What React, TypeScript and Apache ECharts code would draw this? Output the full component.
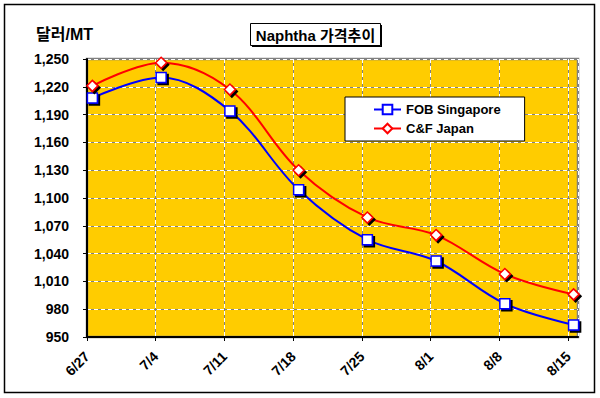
import React, { useEffect, useRef } from "react";
import * as echarts from "echarts";

const tickLabels = ["6/27", "7/4", "7/11", "7/18", "7/25", "8/1", "8/8", "8/15"];
const obsDays = [0.55, 7.55, 14.55, 21.55, 28.55, 35.55, 42.55, 49.55];
const fobSingapore = [1208, 1230, 1194, 1109, 1055, 1032, 986, 963];
const cfJapan = [1221, 1246, 1217, 1130, 1079, 1060, 1018, 996];
const seriesNames = ["FOB Singapore", "C&F Japan"];

const FONT = "Arial, 'Liberation Sans', 'Noto Sans CJK KR', sans-serif";

export default function App() {
  const ref = useRef<HTMLDivElement>(null);
  useEffect(() => {
    if (!ref.current) return;
    const chart = echarts.init(ref.current, null, { renderer: "svg" });
    const fmtY = (v: number) => v.toLocaleString("en-US");
    const fmtX = (v: number) => {
      const i = Math.round(v / 7);
      return Math.abs(v - i * 7) < 0.01 && tickLabels[i] ? tickLabels[i] : "";
    };
    const shadow = { shadowColor: "#000", shadowOffsetX: 2, shadowOffsetY: 2, shadowBlur: 0 };
    chart.setOption({
      animation: false,
      backgroundColor: "#fff",
      textStyle: { fontFamily: FONT },
      grid: {
        left: 87,
        top: 59,
        right: 22,
        bottom: 61,
        show: true,
        backgroundColor: "#FFCC00",
        borderColor: "#808080",
        borderWidth: 2.5,
      },
      legend: {
        orient: "vertical",
        left: 345,
        top: 97,
        data: seriesNames,
        backgroundColor: "#fff",
        borderColor: "#000",
        borderWidth: 1,
        borderRadius: 0,
        padding: [6, 24, 6, 28],
        itemWidth: 27,
        itemHeight: 12,
        itemGap: 6,
        textStyle: { fontSize: 13, fontWeight: "bold", color: "#000", fontFamily: FONT },
      },
      xAxis: [
        {
          type: "value",
          min: 0,
          max: 50,
          interval: 7,
          z: 1,
          axisLine: { show: true, onZero: false, lineStyle: { color: "#000", width: 2 } },
          axisTick: { show: true, length: 4, lineStyle: { color: "#000", width: 1 } },
          axisLabel: {
            formatter: fmtX,
            rotate: 45,
            margin: 17,
            showMaxLabel: false,
            fontSize: 14,
            fontWeight: "bold",
            color: "#000",
            fontFamily: FONT,
          },
          splitLine: { show: true, lineStyle: { color: "#fff", width: 1, type: [4, 3] } },
        },
        {
          type: "value",
          min: 0,
          max: 50,
          interval: 7,
          z: 0,
          position: "bottom",
          axisLine: { show: false },
          axisTick: { show: false },
          axisLabel: { show: false },
          splitLine: { show: true, lineStyle: { color: "#808080", width: 1 } },
        },
      ],
      yAxis: [
        {
          type: "value",
          min: 950,
          max: 1250,
          interval: 30,
          z: 1,
          axisLine: { show: true, onZero: false, lineStyle: { color: "#000", width: 2 } },
          axisTick: { show: true, length: 4, lineStyle: { color: "#000", width: 1 } },
          axisLabel: {
            formatter: fmtY,
            margin: 18,
            fontSize: 14,
            fontWeight: "bold",
            color: "#000",
            fontFamily: FONT,
          },
          splitLine: { show: true, lineStyle: { color: "#fff", width: 1, type: [4, 3] } },
        },
        {
          type: "value",
          min: 950,
          max: 1250,
          interval: 30,
          z: 0,
          position: "left",
          axisLine: { show: false },
          axisTick: { show: false },
          axisLabel: { show: false },
          splitLine: { show: true, lineStyle: { color: "#808080", width: 1 } },
        },
      ],
      series: [
        {
          name: seriesNames[0],
          type: "line",
          smooth: 0.35,
          data: obsDays.map((d, i) => [d, fobSingapore[i]]),
          symbol: "rect",
          symbolSize: 10,
          lineStyle: { color: "#0000FF", width: 2 },
          itemStyle: { color: "#fff", borderColor: "#0000FF", borderWidth: 1.5, ...shadow },
          z: 3,
        },
        {
          name: seriesNames[1],
          type: "line",
          smooth: 0.35,
          data: obsDays.map((d, i) => [d, cfJapan[i]]),
          symbol: "diamond",
          symbolSize: 11,
          lineStyle: { color: "#FF0000", width: 2 },
          itemStyle: { color: "#fff", borderColor: "#FF0000", borderWidth: 1.5, ...shadow },
          z: 3,
        },
      ],
      graphic: [
        {
          type: "rect",
          shape: { x: 4.5, y: 4.5, width: 590, height: 388 },
          style: { fill: "none", stroke: "#000", lineWidth: 1.5 },
          silent: true,
        },
        {
          type: "rect",
          shape: { x: 252, y: 25, width: 130, height: 22 },
          style: { fill: "#000" },
          silent: true,
        },
        {
          type: "rect",
          shape: { x: 250.5, y: 23.5, width: 130, height: 22 },
          style: { fill: "#fff", stroke: "#000", lineWidth: 1 },
          silent: true,
        },
        {
          type: "text",
          x: 315.5,
          y: 35,
          style: {
            text: "Naphtha 가격추이",
            font: `bold 15px ${FONT}`,
            fill: "#000",
            align: "center",
            verticalAlign: "middle",
          },
        },
        {
          type: "text",
          x: 36,
          y: 34,
          style: {
            text: "달러/MT",
            font: `bold 16px ${FONT}`,
            fill: "#000",
            align: "left",
            verticalAlign: "middle",
          },
        },
      ],
    });
    return () => chart.dispose();
  }, []);
  return (
    <div
      ref={ref}
      style={{ position: "fixed", left: 0, top: 0, width: 600, height: 398 }}
    />
  );
}
